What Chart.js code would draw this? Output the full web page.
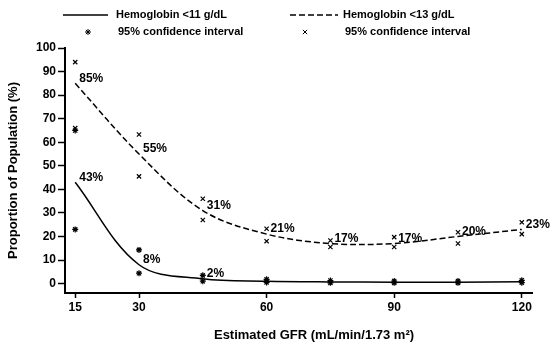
<!DOCTYPE html>
<html>
<head>
<meta charset="utf-8">
<script src="https://cdn.jsdelivr.net/npm/chart.js@4/dist/chart.umd.min.js"></script>
<style>
  body { margin: 0; background: #fff; }
</style>
</head>
<body>
<canvas id="chart" width="551" height="347"></canvas>
<script>
// ========== DATA ==========
const gfr = [15, 30, 45, 60, 75, 90, 105, 120];
const hgb11 = [43, 8, 2, 1, 0.7, 0.6, 0.6, 0.8];
const hgb13 = [85, 55, 31, 21, 17, 17, 20, 23];
const hgb11Lower = [23, 4.4, 1, 0.5, 0.3, 0.3, 0.3, 0.4];
const hgb11Upper = [65, 14.3, 3.5, 1.8, 1.3, 1.1, 1.1, 1.4];
const hgb13Lower = [66, 45.5, 27, 18, 15.5, 15.5, 17, 21];
const hgb13Upper = [94, 63.3, 36, 23.3, 18.3, 19.7, 21.8, 26];
const hgb11Labels = ["43%", "8%", "2%", "", "", "", "", ""];
const hgb13Labels = ["85%", "55%", "31%", "21%", "17%", "17%", "20%", "23%"];
const xTicks = [15, 30, 60, 90, 120];
const yTicks = [0, 10, 20, 30, 40, 50, 60, 70, 80, 90, 100];

const seriesNames = ["Hemoglobin <11 g/dL", "Hemoglobin <13 g/dL"];
const ciName = "95% confidence interval";
const xTitle = "Estimated GFR (mL/min/1.73 m\u00b2)";
const yTitle = "Proportion of Population (%)";

const FONT = '"Liberation Sans", Arial, sans-serif';
Chart.defaults.font.family = FONT;
Chart.defaults.color = "#000";

function toPoints(xs, ys) {
  return xs.map((x, i) => ({ x, y: ys[i] }));
}

// labels, x title and the 2x2 legend
const overlay = {
  id: "overlay",
  afterDatasetsDraw(chart) {
    const ctx = chart.ctx;
    const xs = chart.scales.x;
    const ys = chart.scales.y;
    ctx.save();
    ctx.fillStyle = "#000";
    ctx.strokeStyle = "#000";
    ctx.textAlign = "left";
    ctx.textBaseline = "middle";
    ctx.font = "bold 12px " + FONT;
    [[hgb11, hgb11Labels], [hgb13, hgb13Labels]].forEach(([vals, labels]) => {
      labels.forEach((t, i) => {
        if (!t) return;
        ctx.fillText(t, xs.getPixelForValue(gfr[i]) + 4, ys.getPixelForValue(vals[i]) - 5);
      });
    });

    // x title
    ctx.textAlign = "center";
    ctx.font = "bold 13px " + FONT;
    ctx.fillText(xTitle, 314, 335);

    // legend
    ctx.textAlign = "left";
    ctx.font = "bold 11px " + FONT;
    ctx.lineWidth = 1.5;
    ctx.beginPath();
    ctx.moveTo(63, 15); ctx.lineTo(108, 15);
    ctx.stroke();
    ctx.fillText(seriesNames[0], 116, 15);

    ctx.setLineDash([6, 3]);
    ctx.beginPath();
    ctx.moveTo(290, 15); ctx.lineTo(338, 15);
    ctx.stroke();
    ctx.setLineDash([]);
    ctx.fillText(seriesNames[1], 343, 15);

    ctx.lineWidth = 1;
    Chart.helpers.drawPoint(ctx, { pointStyle: "star", radius: 3, borderWidth: 1 }, 88, 32);
    ctx.fillText(ciName, 118, 32);
    Chart.helpers.drawPoint(ctx, { pointStyle: "crossRot", radius: 3, borderWidth: 1 }, 305, 32);
    ctx.fillText(ciName, 345, 32);
    ctx.restore();
  }
};

new Chart(document.getElementById("chart"), {
  type: "line",
  data: {
    datasets: [
      {
        label: seriesNames[0],
        data: toPoints(gfr, hgb11),
        borderColor: "#000",
        borderWidth: 1.5,
        pointRadius: 0,
        tension: 0.35
      },
      {
        label: seriesNames[1],
        data: toPoints(gfr, hgb13),
        borderColor: "#000",
        borderWidth: 1.5,
        borderDash: [6, 3],
        pointRadius: 0,
        tension: 0.35
      },
      {
        type: "scatter",
        label: ciName,
        data: toPoints(gfr, hgb11Lower).concat(toPoints(gfr, hgb11Upper)),
        pointStyle: "star",
        pointRadius: 3,
        borderColor: "#000",
        borderWidth: 1.2,
        showLine: false
      },
      {
        type: "scatter",
        label: ciName,
        data: toPoints(gfr, hgb13Lower).concat(toPoints(gfr, hgb13Upper)),
        pointStyle: "crossRot",
        pointRadius: 3,
        borderColor: "#000",
        borderWidth: 1.2,
        showLine: false
      }
    ]
  },
  options: {
    responsive: false,
    animation: false,
    layout: { padding: { top: 48, right: 19, left: 0, bottom: 0 } },
    plugins: {
      legend: { display: false },
      tooltip: { enabled: false }
    },
    scales: {
      x: {
        type: "linear",
        min: 12.6,
        max: 122.4,
        afterBuildTicks: (scale) => { scale.ticks = xTicks.map(v => ({ value: v })); },
        afterFit: (scale) => { scale.height = 54; },
        grid: { drawOnChartArea: false, tickLength: 5, tickColor: "#000", tickWidth: 1.5 },
        border: { color: "#000", width: 2 },
        ticks: { padding: 2, font: { size: 12, weight: "bold" } }
      },
      y: {
        min: -4,
        max: 100,
        afterBuildTicks: (scale) => { scale.ticks = yTicks.map(v => ({ value: v })); },
        afterFit: (scale) => { scale.width = 65; },
        grid: { drawOnChartArea: false, tickLength: 7, tickColor: "#000", tickWidth: 1.5 },
        border: { color: "#000", width: 2 },
        ticks: { padding: 2, font: { size: 12, weight: "bold" } },
        title: { display: true, text: yTitle, font: { size: 13, weight: "bold" }, padding: { top: 6, bottom: 0 } }
      }
    }
  },
  plugins: [overlay]
});
</script>
</body>
</html>
